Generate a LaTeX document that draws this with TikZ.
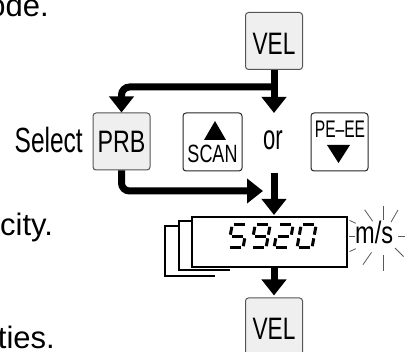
\documentclass[tikz,border=0pt]{standalone}
\usepackage{fontspec}
\setmainfont{Liberation Sans}
\usepackage{graphicx}
\usetikzlibrary{arrows.meta,calc}
\definecolor{keyfill}{HTML}{EFEFEF}
\definecolor{keyedge}{HTML}{555555}
\tikzset{
  graykey/.style={draw=keyedge, fill=keyfill, line width=1pt, rounded corners=3pt,
    minimum width=57pt, minimum height=57pt, inner sep=0pt},
  whitekey/.style={draw=black!85, fill=white, line width=1pt, rounded corners=3pt,
    minimum width=58pt, minimum height=58pt, inner sep=0pt},
  bigarrow/.style={line width=7pt, -{Triangle[width=24pt,length=16pt]}, rounded corners=8pt},
  keylbl/.style={inner sep=0pt, anchor=base, font=\fontsize{31pt}{31pt}\selectfont},
  bodytxt/.style={inner sep=0pt, font=\fontsize{31pt}{31pt}\selectfont},
  ray/.style={draw=black!65, line width=0.8pt},
  seg/.style={line width=3pt},
  ghost/.style={draw=black, line width=1.3pt},
  lcdbox/.style={draw=black, line width=1.5pt, minimum width=155pt, minimum height=50pt, inner sep=0pt},
}
\newcommand{\cond}[2]{\scalebox{#1}[1]{#2}}
\newcommand{\SGA}{\draw[seg] (1.8,-23) -- (13.2,-23);}
\newcommand{\SGB}{\draw[seg] (15,-21.2) -- (15,-13.3);}
\newcommand{\SGC}{\draw[seg] (15,-9.7) -- (15,-1.8);}
\newcommand{\SGD}{\draw[seg] (1.8,0) -- (13.2,0);}
\newcommand{\SGE}{\draw[seg] (0,-9.7) -- (0,-1.8);}
\newcommand{\SGF}{\draw[seg] (0,-21.2) -- (0,-13.3);}
\newcommand{\SGG}{\draw[seg] (1.8,-11.5) -- (13.2,-11.5);}
\begin{document}
\begin{tikzpicture}[x=1pt,y=-1pt]
\useasboundingbox (0,0) rectangle (410,352);
\clip (0,0) rectangle (410,352);

% body text fragments
\node[bodytxt, anchor=base east] (t1) at (49,17) {ode.};
\node[bodytxt, anchor=base west] (t2) at (0,236) {city.};
\node[bodytxt, anchor=base east] (t3) at (55,349) {ties.};

% keys
\node[graykey] (vel1) at (274,41) {};
\node[keylbl] (vel1t) at (274,55) {\cond{0.73}{VEL}};
\node[graykey] (prb) at (121.5,141.5) {};
\node[keylbl] (prbt) at (121.5,153) {\cond{0.75}{PRB}};
\node[keylbl, anchor=base east, font=\fontsize{35pt}{35pt}\selectfont] (sel) at (83,153) {\cond{0.70}{Select}};
\node[whitekey, minimum width=59pt] (scan) at (212.5,142) {};
\fill (215,121) -- (204,140) -- (226,140) -- cycle;
\node[keylbl, font=\fontsize{25pt}{25pt}\selectfont] (scant) at (212.5,163) {\cond{0.72}{SCAN}};
\node[keylbl, font=\fontsize{35pt}{35pt}\selectfont] (ortxt) at (273,150) {\cond{0.63}{or}};
\node[whitekey, minimum width=57pt] (peee) at (339.5,142) {};
\node[keylbl, font=\fontsize{24pt}{24pt}\selectfont] (peeet) at (340,138) {\cond{0.65}{PE–EE}};
\fill (327,145) -- (350,145) -- (338.5,163) -- cycle;

% display
\draw[ghost] (192,221) -- (179,221) -- (179,270) -- (230,270);
\draw[ghost] (179,226) -- (165,226) -- (165,276) -- (215,276);
\node[lcdbox, fill=white] (disp) at (269.5,242) {};
\begin{scope}[shift={(228,248)}, xslant=0.18] \SGA\SGF\SGG\SGC\SGD \end{scope}
\begin{scope}[shift={(251,248)}, xslant=0.18] \SGA\SGB\SGF\SGG\SGC\SGD \end{scope}
\begin{scope}[shift={(274,248)}, xslant=0.18] \SGA\SGB\SGG\SGE\SGD \end{scope}
\begin{scope}[shift={(297,248)}, xslant=0.18] \SGA\SGB\SGC\SGD\SGE\SGF \end{scope}

% flashing unit
\node[keylbl, anchor=base west] (unit) at (355,244) {\cond{0.76}{m/s}};
\coordinate (fc) at (383,236);
\foreach \a/\ra/\rb in {90/16/30, 60/16/30, 125/18/32, 0/15/22, -45/17/29, -90/19/35, -125/20/35, 180/28/34, 155/30/37, 205/30/37}
  \draw[ray] ($(fc)+(\a:\ra pt)$) -- ($(fc)+(\a:\rb pt)$);

% bottom key
\node[graykey] (vel2) at (274,326.5) {};
\node[keylbl] (vel2t) at (274,340) {\cond{0.73}{VEL}};

% connectors
\coordinate (br) at ($(vel1.south)+(0,17)$);
\coordinate (ortop) at (274,113);
\coordinate (orbot) at (274,173);
\coordinate (dtop) at (274,215);
\coordinate (join) at (263,191);
\draw[bigarrow] (vel1.south) -- (ortop);
\draw[bigarrow] (br) -| (prb.north);
\draw[bigarrow] (prb.south) |- (join);
\draw[bigarrow] (orbot) -- (dtop);
\draw[bigarrow] (disp.south -| vel1.south) -- ($(vel2.north)+(0,-2)$);
\end{tikzpicture}
\end{document}
